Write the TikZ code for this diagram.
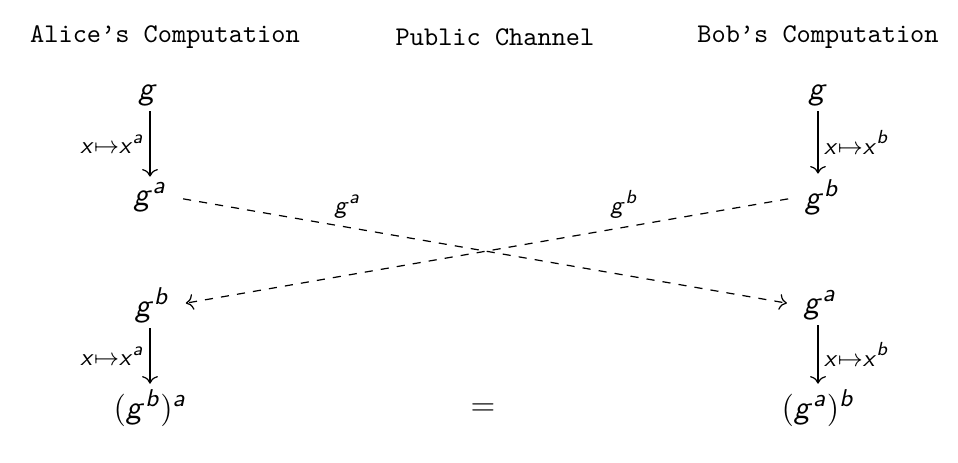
\documentclass[tikz,border=0pt]{standalone}
\usetikzlibrary{cd}
\DeclareMathAlphabet{\mathsfsl}{OT1}{cmss}{m}{sl}
\DeclareMathSizes{12.4}{12.4}{8.7}{6.6}
\newcommand\sv[1]{\mathsfsl{#1}}
\tikzset{
  hdr/.style={font=\ttfamily, inner sep=0pt},
  mth/.style={inner sep=2pt, font=\fontsize{12.4}{15}\selectfont},
  lbl/.style={inner sep=2pt, font=\fontsize{12.4}{15}\selectfont},
  solidarr/.style={-cm to, line width=0.45pt},
  dasharr/.style={-cm to, dashed, line width=0.45pt, shorten <=4pt, shorten >=4pt},
}
\begin{document}
\begin{tikzpicture}[x=0.37pt,y=-0.37pt]
\useasboundingbox (0,0) rectangle (958,462);
\node[hdr] (hA) at (165,37) {Alice\textquoteright s Computation};
\node[hdr] (hP) at (495,37) {Public Channel};
\node[hdr] (hB) at (818,37) {Bob\textquoteright s Computation};

\node[mth] (gL) at (148,95) {$\sv{g}$};
\node[mth] (gaL) at (150,197) {$\sv{g}^{\sv{a}}$};
\node[mth] (gbL) at (152,305) {$\sv{g}^{\sv{b}}$};
\node[mth] (gbaL) at (150,408) {$(\sv{g}^{\sv{b}})^{\sv{a}}$};

\node[mth] (gR) at (818,95) {$\sv{g}$};
\node[mth] (gbR) at (822,197) {$\sv{g}^{\sv{b}}$};
\node[mth] (gaR) at (820,305) {$\sv{g}^{\sv{a}}$};
\node[mth] (gabR) at (818,408) {$(\sv{g}^{\sv{a}})^{\sv{b}}$};

\node[mth] (eq) at (483,410) {$=$};

\draw[solidarr] (gL.south -| 150,0) -- (gaL.north -| 150,0) node[midway,left,lbl] {$\scriptstyle\sv{x}\mapsto \sv{x}^{\sv{a}}$};
\draw[solidarr] (gbL.south -| 150,0) -- (gbaL.north -| 150,0) node[midway,left,lbl] {$\scriptstyle\sv{x}\mapsto \sv{x}^{\sv{a}}$};
\draw[solidarr] (gR.south -| 818,0) -- (gbR.north -| 818,0) node[midway,right,lbl] {$\scriptstyle\sv{x}\mapsto \sv{x}^{\sv{b}}$};
\draw[solidarr] (gaR.south -| 818,0) -- (gabR.north -| 818,0) node[midway,right,lbl] {$\scriptstyle\sv{x}\mapsto \sv{x}^{\sv{b}}$};

\draw[dasharr] (gaL.east) -- (gaR.west) node[pos=0.28,above=1pt,lbl] {$\scriptstyle\sv{g}^{\sv{a}}$};
\draw[dasharr] (gbR.west) -- (gbL.east) node[pos=0.28,above=1pt,lbl] {$\scriptstyle\sv{g}^{\sv{b}}$};
\end{tikzpicture}
\end{document}
